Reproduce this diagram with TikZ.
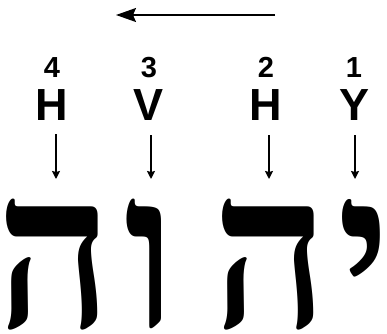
\documentclass[tikz,border=0pt]{standalone}
\usepackage{fontspec}
\setmainfont{Liberation Sans}
\newfontfamily\hebfont[Script=Hebrew]{Liberation Serif}
\TeXXeTstate=1
\usetikzlibrary{arrows.meta}
\tikzset{
  num/.style={font=\fontsize{29}{29}\selectfont\bfseries, inner sep=0pt, anchor=base},
  lat/.style={font=\fontsize{45}{45}\selectfont\bfseries, inner sep=0pt, anchor=base},
  heb/.style={font=\hebfont\bfseries\fontsize{202}{202}\selectfont, inner sep=0pt, anchor=base, yscale=1.08},
  down/.style={line width=2pt, -{Stealth[length=8pt,width=8pt,inset=1pt]}},
  dirarrow/.style={line width=1.4pt, -{Stealth[length=20pt,width=14pt,inset=3pt]}}
}
\begin{document}
\begin{tikzpicture}[x=1pt,y=-1pt]
\useasboundingbox (0,0) rectangle (387,333);
\coordinate (as) at (275,15);
\coordinate (ae) at (116,15);
\draw[dirarrow] (as) -- (ae);
\node[num] (n4) at (52,77) {4};
\node[num] (n3) at (149,77) {3};
\node[num] (n2) at (266,77) {2};
\node[num] (n1) at (354,77) {1};
\node[lat] (l4) at (52,120) {H};
\node[lat] (l3) at (149,120) {V};
\node[lat] (l2) at (266,120) {H};
\node[lat] (l1) at (354,120) {Y};
\coordinate (d4a) at (56,134); \coordinate (d4b) at (56,179);
\coordinate (d3a) at (151,135); \coordinate (d3b) at (151,179);
\coordinate (d2a) at (269,135); \coordinate (d2b) at (269,179);
\coordinate (d1a) at (355,135); \coordinate (d1b) at (355,179);
\draw[down] (d4a) -- (d4b);
\draw[down] (d3a) -- (d3b);
\draw[down] (d2a) -- (d2b);
\draw[down] (d1a) -- (d1b);
\node[heb] (h4) at (55,327) {\beginR ה\endR};
\node[heb] (h3) at (150,327) {\beginR ו\endR};
\node[heb] (h2) at (271,327) {\beginR ה\endR};
\node[heb] (h1) at (364,327) {\beginR י\endR};
\end{tikzpicture}
\end{document}
